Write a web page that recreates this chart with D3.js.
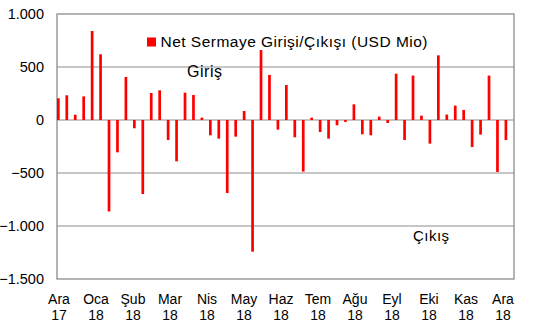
<!DOCTYPE html>
<html><head><meta charset="utf-8">
<script src="https://cdn.jsdelivr.net/npm/d3@7"></script>
<style>body{margin:0;background:#fff}svg{display:block}text{font-family:Arial,"Liberation Sans",sans-serif;fill:#000}</style>
</head><body><svg id="c" width="545" height="326"></svg>
<script>
const categories = ["2017-12-01","2017-12-08","2017-12-15","2017-12-22","2017-12-29",
"2018-01-05","2018-01-12","2018-01-19","2018-01-26",
"2018-02-02","2018-02-09","2018-02-16","2018-02-23",
"2018-03-02","2018-03-09","2018-03-16","2018-03-23","2018-03-30",
"2018-04-06","2018-04-13","2018-04-20","2018-04-27",
"2018-05-04","2018-05-11","2018-05-18","2018-05-25",
"2018-06-01","2018-06-08","2018-06-15","2018-06-22","2018-06-29",
"2018-07-06","2018-07-13","2018-07-20","2018-07-27",
"2018-08-03","2018-08-10","2018-08-17","2018-08-24","2018-08-31",
"2018-09-07","2018-09-14","2018-09-21","2018-09-28",
"2018-10-05","2018-10-12","2018-10-19","2018-10-26",
"2018-11-02","2018-11-09","2018-11-16","2018-11-23","2018-11-30",
"2018-12-07"];
const values = [205,233,50,223,840,620,-863,-305,406,-78,
-698,255,280,-189,-390,258,236,22,-144,-176,
-689,-157,85,-1242,660,425,-91,330,-163,-487,
22,-113,-176,-50,-18,148,-135,-144,32,-28,
437,-189,419,41,-223,610,51,136,95,-255,
-138,419,-490,-189];
const monthNames = ["Ara","Oca","Şub","Mar","Nis","May","Haz","Tem","Ağu","Eyl","Eki","Kas","Ara"];
const monthYears = ["17","18","18","18","18","18","18","18","18","18","18","18","18"];
const yTicks = [1000,500,0,-500,-1000,-1500];
const seriesName = "Net Sermaye Girişi/Çıkışı (USD Mio)";

const svg = d3.select("#c");
const L=57, R=514, T=14, B=279;
const y = d3.scaleLinear().domain([-1500,1000]).range([B,T]);
const x = d3.scaleBand().domain(categories).range([L,513]).padding(0);
const xm = d3.scalePoint().domain(monthNames.map((d,i)=>i)).range([59,503]);
const fmt = v => d3.format(",")(v).replace(/,/g,".");

// gridlines
svg.append("g").selectAll("line").data(yTicks.filter(v=>v>-1500 && v<1000)).join("line")
  .attr("x1",L).attr("x2",R).attr("y1",d=>y(d)).attr("y2",d=>y(d))
  .attr("stroke","#b3b3b3").attr("stroke-width",1.3);
// border
svg.append("rect").attr("x",L).attr("y",T).attr("width",R-L).attr("height",B-T)
  .attr("fill","none").attr("stroke","#8c8c8c").attr("stroke-width",1.3);

// bars
const bw = 2.7;
svg.append("g").selectAll("rect").data(values).join("rect")
  .attr("x",(d,i)=>x(categories[i]))
  .attr("width",bw)
  .attr("y",d=>y(Math.max(0,d)))
  .attr("height",d=>Math.abs(y(d)-y(0)))
  .attr("fill","#ff0000");

// y axis labels
svg.append("g").selectAll("text").data(yTicks).join("text")
  .attr("x",44).attr("y",d=>y(d)).attr("dy","0.36em").attr("text-anchor","end")
  .attr("font-size",14.5).text(fmt);

// x labels
svg.append("g").selectAll("text").data(monthNames).join("text")
  .attr("text-anchor","middle").attr("font-size",14)
  .attr("x",(d,i)=>xm(i)).attr("y",304).text(d=>d);
svg.append("g").selectAll("text").data(monthYears).join("text")
  .attr("text-anchor","middle").attr("font-size",14)
  .attr("x",(d,i)=>xm(i)).attr("y",319.5).text(d=>d);

// legend
svg.append("rect").attr("x",147).attr("y",37.5).attr("width",9).attr("height",9).attr("fill","#ff0000");
svg.append("text").attr("x",160.5).attr("y",46.5).attr("font-size",15.5)
  .attr("textLength",267).attr("lengthAdjust","spacing").text(seriesName);

// annotations
svg.append("text").attr("x",187).attr("y",77).attr("font-size",16).attr("textLength",35).attr("lengthAdjust","spacing").text("Giriş");
svg.append("text").attr("x",413).attr("y",241).attr("font-size",15).attr("textLength",36).attr("lengthAdjust","spacing").text("Çıkış");
</script></body></html>
